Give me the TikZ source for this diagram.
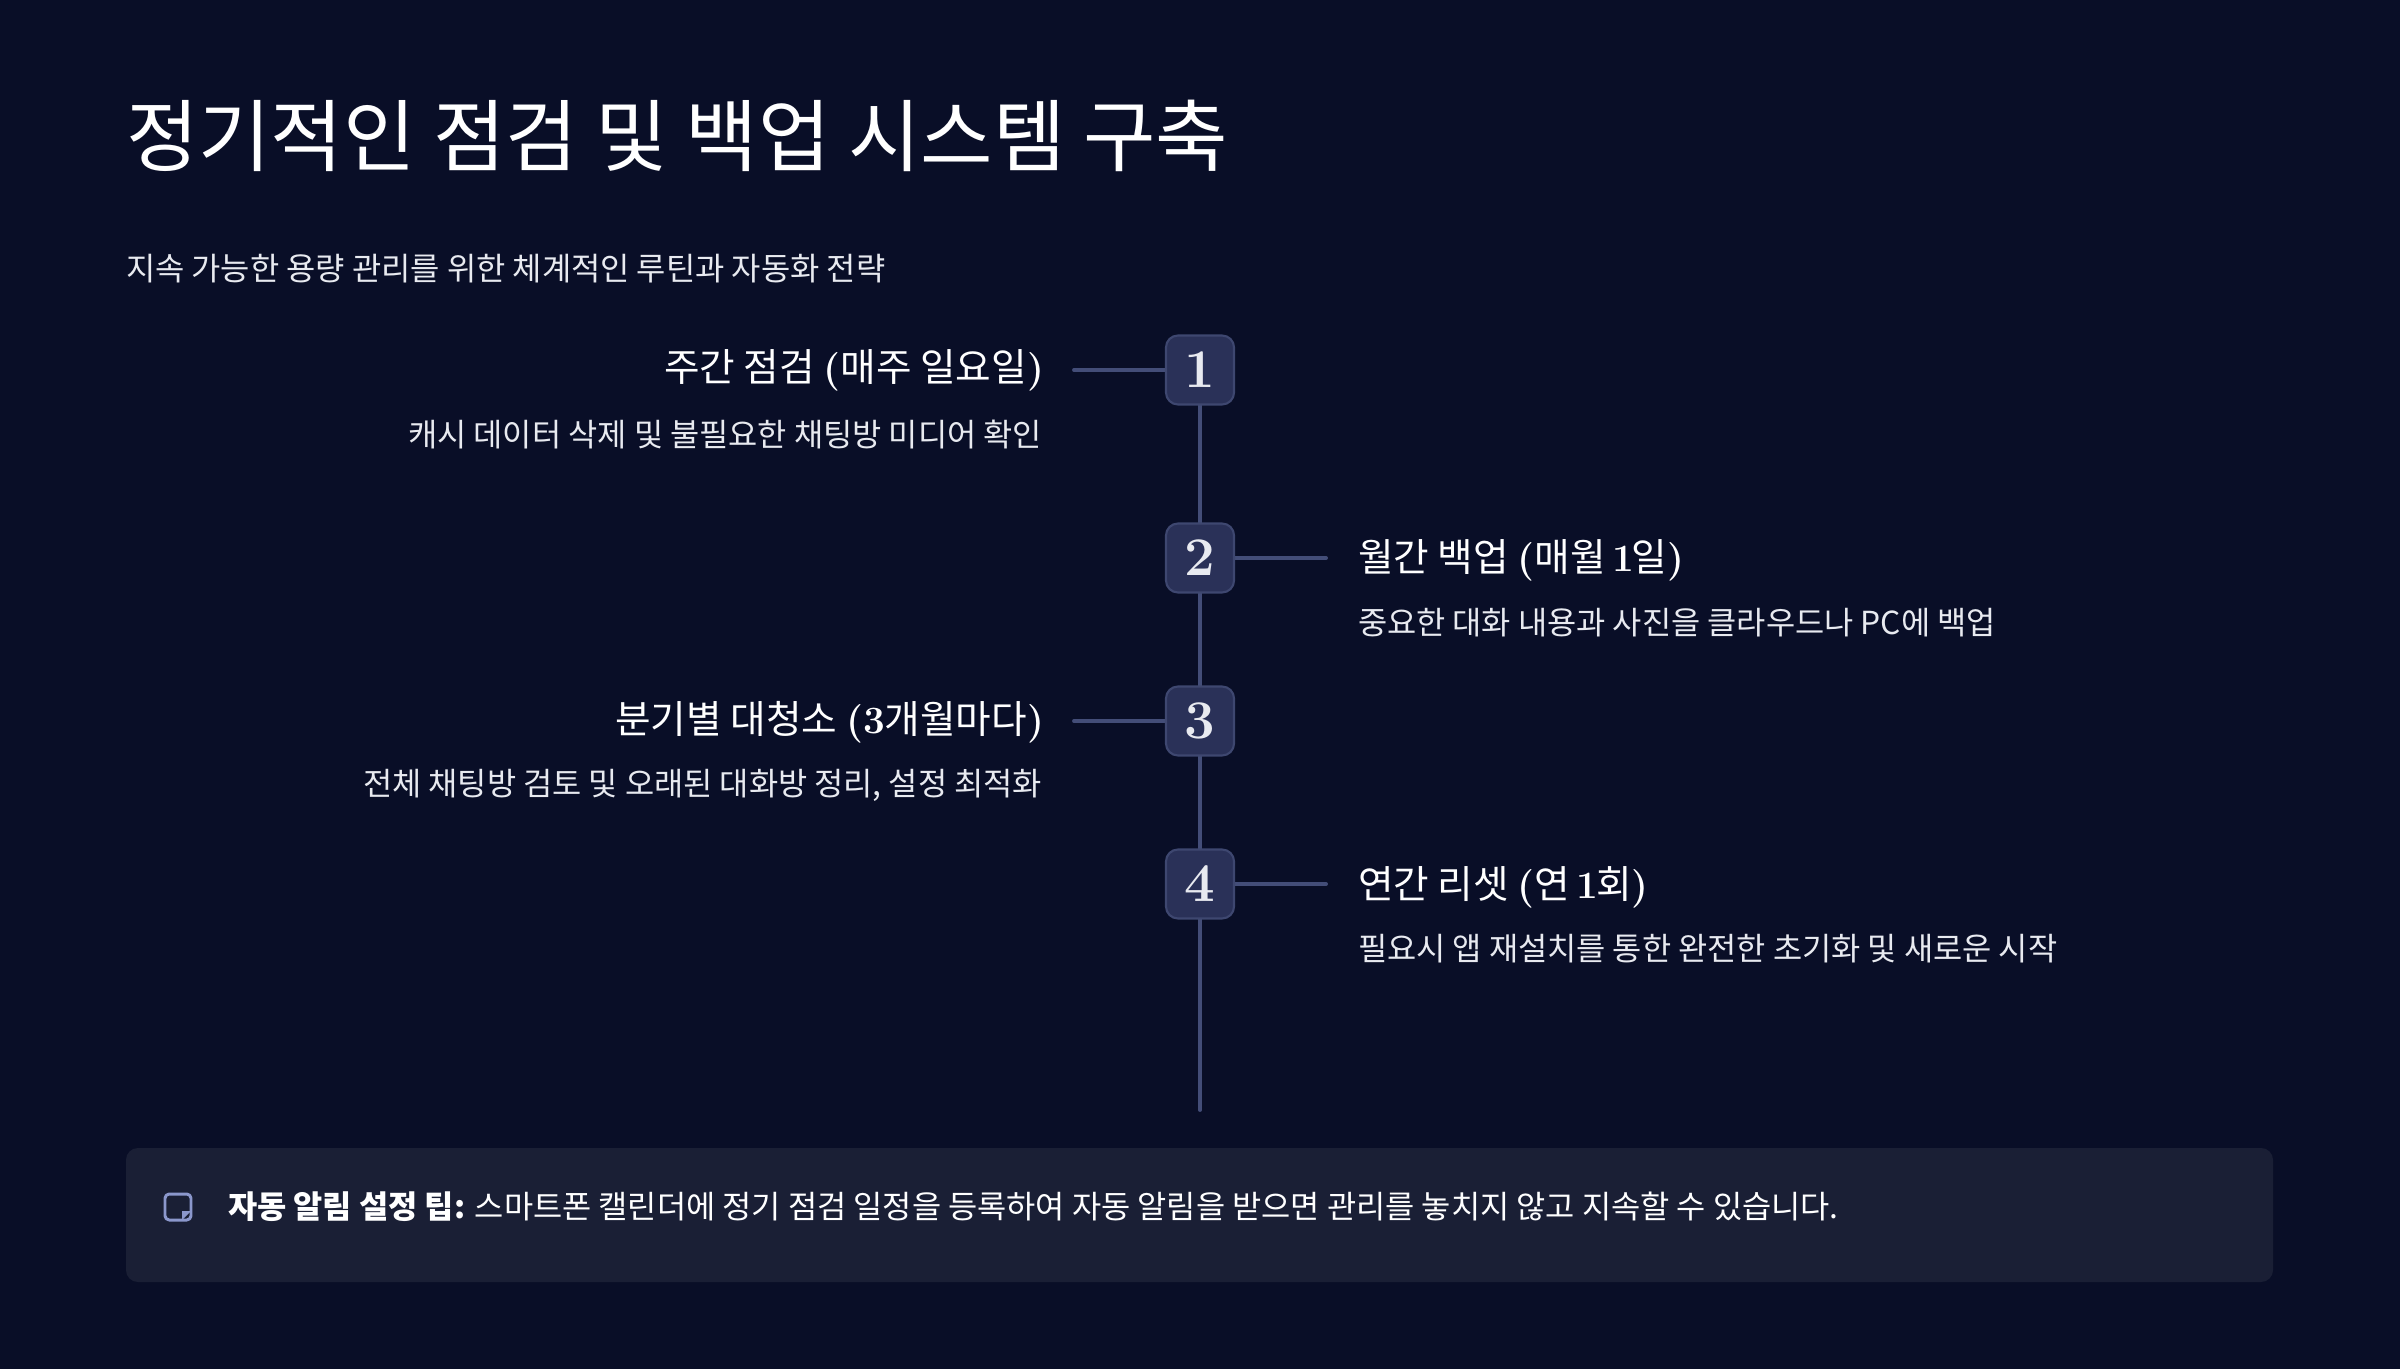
\documentclass[tikz,border=0pt]{standalone}
\usepackage{fontspec}
\usepackage{xcolor}
\usetikzlibrary{positioning,backgrounds}
\newfontfamily\kr{Noto Sans CJK KR}
\definecolor{tlBg}    {RGB}{  9, 14, 39}
\definecolor{tlPanel} {RGB}{ 26, 31, 53}
\definecolor{tlBox}   {RGB}{ 42, 49, 88}
\definecolor{tlEdge}  {RGB}{ 62, 71,112}
\definecolor{tlLine}  {RGB}{ 67, 77,120}
\definecolor{tlIcon}  {RGB}{139,151,204}
\definecolor{tlText}  {RGB}{232,234,240}
\begin{document}
\begin{tikzpicture}[
  every node/.style={inner sep=0pt,outer sep=0pt,text=tlText},
  main/.style={font=\kr\fontsize{22.4}{27}\selectfont,text=white},
  lead/.style={font=\kr\fontsize{9.05}{12}\selectfont},
  head/.style={font=\fontsize{11.0}{14}\bfseries\selectfont,text=white},
  desc/.style={font=\kr\fontsize{9.03}{12}\selectfont},
  tip/.style={font=\kr\fontsize{9.03}{12}\selectfont,text=white},
  num/.style={draw=tlEdge,fill=tlBox,line width=0.6pt,rounded corners=3.4pt,minimum width=0.68cm,minimum height=0.69cm,
              font=\fontsize{15.5}{17}\bfseries\selectfont},
  link/.style={draw=tlLine,line width=1.1pt,line cap=round}
]
\useasboundingbox (0,0) rectangle (24,13.68);

\node[main,anchor=base west] (TITLE) at (1.26,12.02) {정기적인 점검 및 백업 시스템 구축};
\node[lead,anchor=base west] (LEAD) at (1.26,10.87) {지속 가능한 용량 관리를 위한 체계적인 루틴과 자동화 전략};

% steps
\node[num] (S1) at (12.00,9.98) {1};
\node[num] (S2) at (12.00,8.10) {2};
\node[num] (S3) at (12.00,6.47) {3};
\node[num] (S4) at (12.00,4.84) {4};
\coordinate (TAIL) at (12.00,2.58);
\coordinate (E1) at (10.74,9.98);
\coordinate (E2) at (13.26,8.10);
\coordinate (E3) at (10.74,6.47);
\coordinate (E4) at (13.26,4.84);

% left side
\node[head,anchor=base east] (H1) at (10.44,9.86) {{\mdseries\kr 주간 점검 }({\mdseries\kr 매주 일요일})};
\node[desc,anchor=base east] (D1) at (10.42,9.21) {캐시 데이터 삭제 및 불필요한 채팅방 미디어 확인};
\node[head,anchor=base east] (H3) at (10.44,6.34) {{\mdseries\kr 분기별 대청소 }(3{\mdseries\kr 개월마다})};
\node[desc,anchor=base east] (D3) at (10.42,5.72) {전체 채팅방 검토 및 오래된 대화방 정리, 설정 최적화};

% right side
\node[head,anchor=base west] (H2) at (13.58,7.96) {{\mdseries\kr 월간 백업 }({\mdseries\kr 매월 }\kern-0.6pt 1\kern-0.6pt{\mdseries\kr 일})};
\node[desc,anchor=base west] (D2) at (13.58,7.33) {중요한 대화 내용과 사진을 클라우드나 PC에 백업};
\node[head,anchor=base west] (H4) at (13.58,4.70) {{\mdseries\kr 연간 리셋 }({\mdseries\kr 연 }\kern-0.6pt 1\kern-0.6pt{\mdseries\kr 회})};
\node[desc,anchor=base west] (D4) at (13.58,4.08) {필요시 앱 재설치를 통한 완전한 초기화 및 새로운 시작};

% tip panel
\fill[tlPanel,rounded corners=3.4pt] (1.26,0.86) rectangle (22.73,2.20);
\draw[tlIcon,line width=0.85pt,rounded corners=1.2pt,line join=round]
  (1.91,1.48) -- (1.65,1.48) -- (1.65,1.74) -- (1.91,1.74) -- (1.91,1.57) -- cycle;
\fill[tlIcon] (1.91,1.57) -- (1.82,1.57) -- (1.82,1.48) -- cycle;
\node[tip,anchor=base west] (TIP) at (2.28,1.50) {\textbf{자동 알림 설정 팁:} 스마트폰 캘린더에 정기 점검 일정을 등록하여 자동 알림을 받으면 관리를 놓치지 않고 지속할 수 있습니다.};

\begin{scope}[on background layer]
\fill[tlBg] (-0.1,-0.1) rectangle (24.1,13.78);
\draw[link] (S1) -- (S2);
\draw[link] (S2) -- (S3);
\draw[link] (S3) -- (S4);
\draw[link] (S4) -- (TAIL);
\draw[link] (S1) -- (E1);
\draw[link] (S2) -- (E2);
\draw[link] (S3) -- (E3);
\draw[link] (S4) -- (E4);
\end{scope}
\end{tikzpicture}
\end{document}
